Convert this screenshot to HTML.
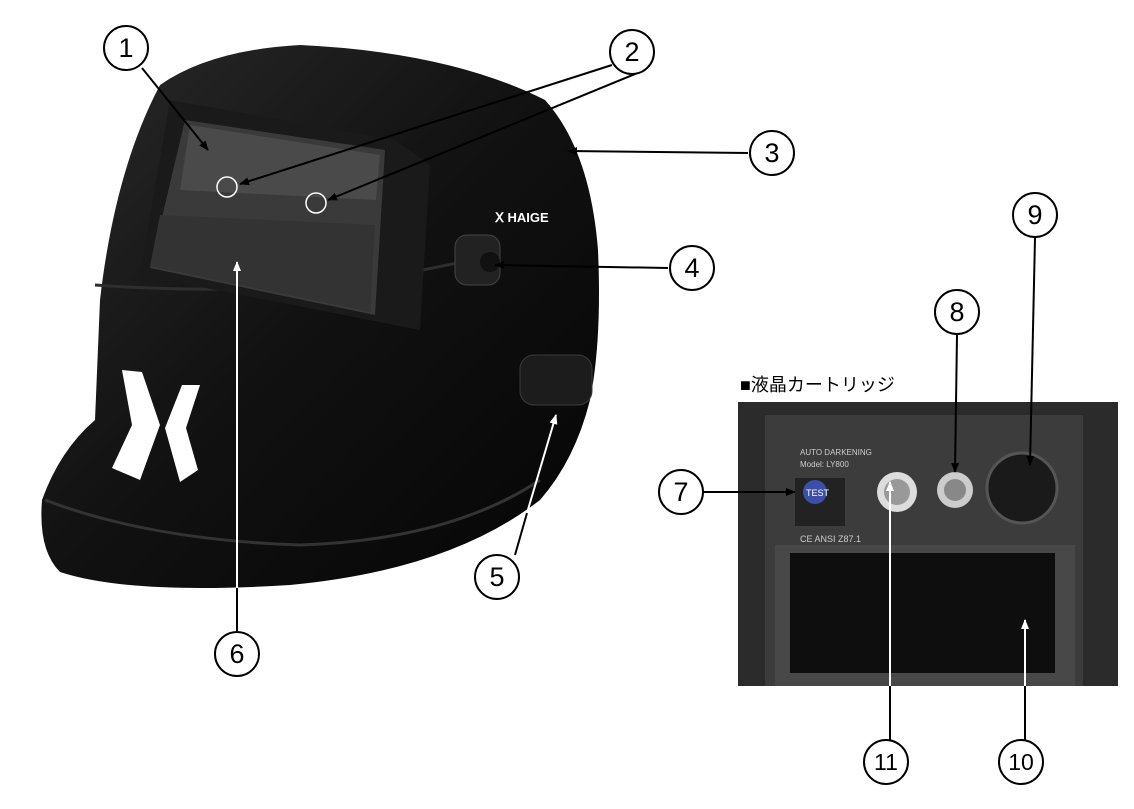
<!DOCTYPE html>
<html><head><meta charset="utf-8"><style>
html,body{margin:0;padding:0;background:#fff;}
svg{display:block}
</style></head><body>
<svg width="1134" height="809" viewBox="0 0 1134 809" xmlns="http://www.w3.org/2000/svg">
<defs>
<marker id="ah" markerWidth="10" markerHeight="10" refX="9" refY="5" orient="auto" markerUnits="userSpaceOnUse"><path d="M0,1 L10,5 L0,9 Z" fill="#000"/></marker>
<marker id="aw" markerWidth="10" markerHeight="10" refX="9" refY="5" orient="auto" markerUnits="userSpaceOnUse"><path d="M0,1 L10,5 L0,9 Z" fill="#fff"/></marker>
<linearGradient id="hg" x1="0" y1="0" x2="1" y2="1"><stop offset="0" stop-color="#2a2a2a"/><stop offset="0.5" stop-color="#111"/><stop offset="1" stop-color="#050505"/></linearGradient>
</defs>
<!-- helmet -->
<path d="M160,85 Q210,50 300,45 Q450,52 545,100 Q590,150 598,250 Q602,340 590,400 Q575,460 540,500 Q450,570 290,585 Q130,595 60,572 Q38,550 42,500 Q60,450 95,420 L100,300 Q115,170 160,85 Z" fill="url(#hg)"/>
<path d="M45,500 Q150,540 300,545 Q450,540 540,480" stroke="#333" stroke-width="3" fill="none"/>
<path d="M95,285 Q300,300 470,260" stroke="#2e2e2e" stroke-width="3" fill="none"/>
<!-- window -->
<path d="M170,100 L395,140 L430,165 L420,330 L140,275 Z" fill="#1a1a1a"/>
<path d="M185,120 L385,150 L375,315 L150,268 Z" fill="#3a3a3a"/>
<path d="M190,125 L380,155 L376,200 L180,190 Z" fill="#4a4a4a"/>
<path d="M160,215 L375,225 L370,312 L150,266 Z" fill="#333"/>
<circle cx="227" cy="187" r="10" fill="none" stroke="#fff" stroke-width="1.5"/>
<circle cx="316" cy="203" r="10" fill="none" stroke="#fff" stroke-width="1.5"/>
<text x="495" y="222" font-family="Liberation Sans,sans-serif" font-size="13" font-weight="bold" fill="#fff">Ⅹ HAIGE</text>
<!-- knobs -->
<rect x="455" y="235" width="45" height="50" rx="12" fill="#222" stroke="#444"/>
<circle cx="490" cy="262" r="10" fill="#111"/>
<rect x="520" y="355" width="72" height="50" rx="14" fill="#1c1c1c" stroke="#3a3a3a"/>
<!-- logo -->
<path d="M122,370 L142,372 L160,425 L140,480 L112,468 L132,425 Z" fill="#fff"/>
<path d="M200,385 L182,385 L165,428 L180,482 L198,470 L186,428 Z" fill="#fff"/>
<!-- cartridge -->
<text x="740" y="391" font-family="Liberation Sans,'Noto Sans CJK JP',sans-serif" font-size="18" fill="#000">■液晶カートリッジ</text>
<rect x="738" y="402" width="380" height="284" fill="#2b2b2b"/>
<rect x="765" y="415" width="318" height="271" fill="#3c3c3c"/>
<rect x="775" y="545" width="300" height="141" fill="#484848"/>
<rect x="790" y="553" width="265" height="120" fill="#0e0e0e"/>
<text x="800" y="455" font-family="Liberation Sans,sans-serif" font-size="8" fill="#ccc">AUTO DARKENING</text>
<text x="800" y="467" font-family="Liberation Sans,sans-serif" font-size="8" fill="#ccc">Model: LY800</text>
<rect x="795" y="478" width="50" height="48" fill="#222"/>
<circle cx="815" cy="492" r="12" fill="#3b4ea8"/>
<text x="806" y="496" font-family="Liberation Sans,sans-serif" font-size="9" fill="#fff">TEST</text>
<circle cx="897" cy="492" r="20" fill="#ddd"/><circle cx="897" cy="492" r="13" fill="#999"/>
<circle cx="955" cy="490" r="18" fill="#ccc"/><circle cx="955" cy="490" r="11" fill="#888"/>
<circle cx="1022" cy="488" r="35" fill="#1a1a1a" stroke="#555" stroke-width="3"/>
<text x="800" y="542" font-family="Liberation Sans,sans-serif" font-size="9" fill="#ccc">CE  ANSI Z87.1</text>
<!-- arrows -->
<g stroke="#000" stroke-width="2" fill="none">
<line x1="142" y1="68" x2="208" y2="150" marker-end="url(#ah)"/>
<line x1="612" y1="65" x2="240" y2="184" marker-end="url(#ah)"/>
<line x1="640" y1="72" x2="328" y2="200" marker-end="url(#ah)"/>
<line x1="748" y1="153" x2="568" y2="151" marker-end="url(#ah)"/>
<line x1="668" y1="268" x2="495" y2="265" marker-end="url(#ah)"/>
<line x1="703" y1="492" x2="795" y2="492" marker-end="url(#ah)"/>
<line x1="957" y1="335" x2="955" y2="472" marker-end="url(#ah)"/>
<line x1="1035" y1="238" x2="1030" y2="465" marker-end="url(#ah)"/>
<line x1="515" y1="555" x2="527" y2="513"/>
<line x1="237" y1="632" x2="237" y2="588"/>
<line x1="890" y1="740" x2="890" y2="686"/>
<line x1="1025" y1="740" x2="1025" y2="686"/>
</g>
<g stroke="#fff" stroke-width="2" fill="none">
<line x1="527" y1="513" x2="556" y2="415" marker-end="url(#aw)"/>
<line x1="237" y1="588" x2="237" y2="262" marker-end="url(#aw)"/>
<line x1="890" y1="686" x2="890" y2="482" marker-end="url(#aw)"/>
<line x1="1025" y1="686" x2="1025" y2="620" marker-end="url(#aw)"/>
</g>
<g stroke="#000" stroke-width="2" fill="#fff">
<circle cx="126" cy="48" r="22"/><circle cx="632" cy="52" r="22"/><circle cx="772" cy="153" r="22"/><circle cx="692" cy="268" r="22"/>
<circle cx="497" cy="577" r="22"/><circle cx="237" cy="654" r="22"/><circle cx="681" cy="492" r="22"/><circle cx="957" cy="312" r="22"/>
<circle cx="1035" cy="215" r="22"/><circle cx="1021" cy="762" r="22"/><circle cx="886" cy="762" r="22"/>
</g>
<g font-family="Liberation Sans,sans-serif" font-size="27" text-anchor="middle" fill="#000">
<text x="126" y="57">1</text><text x="632" y="61">2</text><text x="772" y="162">3</text><text x="692" y="277">4</text>
<text x="497" y="586">5</text><text x="237" y="663">6</text><text x="681" y="501">7</text><text x="957" y="321">8</text>
<text x="1035" y="224">9</text><text x="1021" y="770" font-size="23">10</text><text x="886" y="770" font-size="23">11</text>
</g>
</svg>
</body></html>
